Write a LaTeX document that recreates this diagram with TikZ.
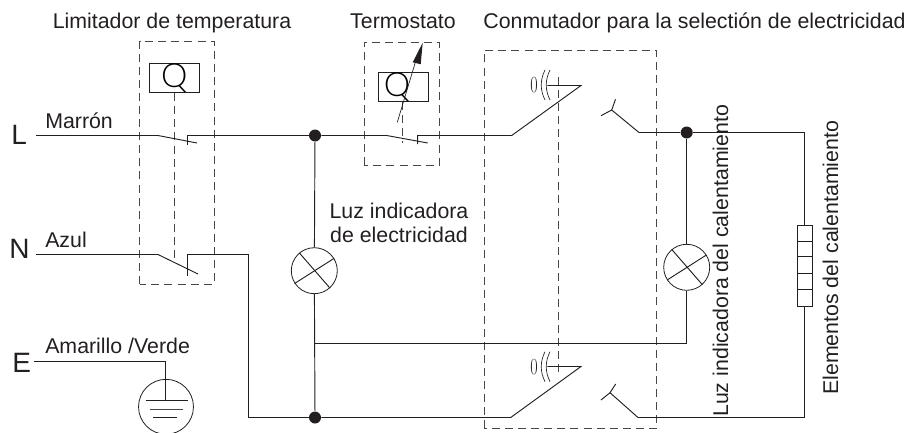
\documentclass[tikz,border=0pt]{standalone}
\usepackage{fontspec}
\setmainfont{Liberation Sans}
\newfontfamily\thinfont{Lato Light}
\definecolor{wireink}{RGB}{35,31,32}
\definecolor{dashink}{RGB}{70,70,70}
\tikzset{
  wire/.style={draw=wireink,line width=0.7pt},
  dashbox/.style={draw=dashink,line width=0.6pt,dash pattern=on 6pt off 3.8pt},
  lamp/.style={circle,draw=wireink,line width=0.6pt,minimum size=34.5pt,inner sep=0pt},
  dotjoin/.style={circle,fill=wireink,minimum size=9pt,inner sep=0pt},
  relaybox/.style={draw=wireink,line width=0.6pt,minimum width=37.8pt,minimum height=22pt,inner sep=0pt,font=\thinfont\fontsize{25}{25}\selectfont},
  caption/.style={inner sep=0pt,text=wireink,font=\fontsize{16}{18.5}\selectfont},
  terminal/.style={inner sep=0pt,text=wireink,font=\fontsize{21}{21}\selectfont},
  heatcell/.style={draw=wireink,line width=0.5pt},
}
\begin{document}
\begin{tikzpicture}[x=0.75pt,y=0.75pt,yscale=-1,xscale=1]
\useasboundingbox (0,0) rectangle (910,432);

% captions
\node[caption,anchor=base] (capLimit) at (172,28) {Limitador de temperatura};
\node[caption,anchor=base] (capTermo) at (403,28) {Termostato};
\node[caption,anchor=base] (capSwitch) at (694.5,28) {Conmutador para la selectión de electricidad};
\node[caption,anchor=base west] (capMarron) at (45,128) {Marrón};
\node[caption,anchor=base west] (capAzul) at (45,247) {Azul};
\node[caption,anchor=base west] (capVerde) at (45,353) {Amarillo /Verde};
\node[caption,align=center] (capLuz) at (399,223) {Luz indicadora\\de electricidad};
\node[caption,rotate=90,anchor=base west] (capLuzCal) at (728,417) {Luz indicadora del calentamiento};
\node[caption,rotate=90,anchor=base west] (capElem) at (838,395) {Elementos del calentamiento};
\node[terminal,anchor=base west] (termL) at (11,144) {L};
\node[terminal,anchor=base west] (termN) at (9,258) {N};
\node[terminal,anchor=base west] (termE) at (12,372) {E};

% dashed boxes
\draw[dashbox] (139.5,284) rectangle (214,41.5);
\draw[dashbox] (364.3,165) rectangle (439.3,42);
\draw[dashbox] (484,428.3) rectangle (656.7,50.7);

% relays
\node[relaybox] (relayLimit) at (174.3,78.2) {Q};
\node[relaybox] (relayTermo) at (403.5,87.2) {Q\kern 9.8pt};
\coordinate (limitEnd) at (174.5,262);
\coordinate (termoEnd) at (402,143);
\coordinate (switchTop) at (558.3,77);
\coordinate (switchEnd) at (558.3,375);
\draw[dashbox] (relayLimit.south -| limitEnd) -- (limitEnd);
\draw[dashbox] (relayTermo.south -| termoEnd) -- (termoEnd);
\draw[dashbox] (switchTop) -- (switchEnd);
\draw[wire,line width=0.5pt] (397.3,122.3) -- (416,60);
\fill[wireink] (422.7,42.7) -- (420.7,64.3) -- (412.7,62.3) -- cycle;

% junctions and lamps
\node[dotjoin] (dotTop) at (315,135.5) {};
\node[dotjoin] (dotBot) at (315,417.5) {};
\node[dotjoin] (dotHeat) at (686.7,132.5) {};
\node[lamp] (lampPower) at (314.3,270.7) {};
\node[lamp] (lampHeat) at (686.7,267.3) {};
\foreach \l in {lampPower,lampHeat}{
  \draw[wire] (\l.130) -- (\l.-48);
  \draw[wire] (\l.-147) -- (\l.32);
}

% line L
\coordinate (Lstart) at (36,135.5);
\coordinate (Lopen) at (158,135.5);
\coordinate (Lfree) at (197,143);
\coordinate (Lfix) at (187.5,135.5);
\coordinate (Lfixb) at (187.5,145);
\draw[wire] (Lstart) -- (Lopen) -- (Lfree);
\draw[wire] (Lfixb) -- (Lfix) -- (dotTop);
\coordinate (Topen) at (386.7,135.5);
\coordinate (Tfree) at (427.7,143);
\coordinate (Tfix) at (417.7,135.5);
\coordinate (Tfixb) at (417.7,144);
\draw[wire] (dotTop) -- (Topen) -- (Tfree);
\draw[wire] (Tfixb) -- (Tfix) -- (511.7,135.5) -- (581,85.5) -- (547.3,85.5);
\draw[wire] (dotTop) -- (lampPower);

% line N
\coordinate (Nstart) at (36,254.5);
\coordinate (Nopen) at (158,254.5);
\coordinate (Nfree) at (198,274);
\coordinate (Nfix) at (187.5,254.5);
\coordinate (Nfixb) at (187.5,276);
\draw[wire] (Nstart) -- (Nopen) -- (Nfree);
\draw[wire] (Nfixb) -- (Nfix) -- (248,254.5) -- (248,417.5) -- (dotBot);
\draw[wire] (dotBot) -- (510.7,417.5) -- (581,366.5) -- (547.3,366.5);
\draw[wire] (lampPower) -- (dotBot);

% change-over contacts
\draw[wire] (dotHeat) -- (639,132.5) -- (611.7,110);
\draw[wire] (601,115.7) -- (611.7,110) -- (615.5,99.3);
\draw[wire] (804.5,417.5) -- (638,417.5) -- (610,392.7);
\draw[wire] (601,400) -- (610,392.7) -- (615.7,384);
\foreach \y/\n in {85/A,366.7/B}{
  \node[inner sep=0pt,text=wireink,font=\fontsize{17}{17}\selectfont] (zero\n) at (534,\y) {\scalebox{0.7}[1]{$0$}};
  \draw[wire,line width=0.5pt] (545,\y-15) .. controls (540,\y-5) and (540,\y+5) .. (545,\y+15);
  \draw[wire,line width=0.5pt] (550,\y-15) .. controls (545,\y-5) and (545,\y+5) .. (550,\y+15);
}

% heater side
\coordinate (heatTop) at (804.5,225.5);
\coordinate (heatBot) at (804.5,306.5);
\draw[heatcell] (797.5,225.5) rectangle (812.5,306.5);
\foreach \y in {241.5,256.5,273.5,289.5}
  \draw[heatcell] (797.5,\y) -- (812.5,\y);
\draw[wire] (dotHeat) -- (dotHeat -| heatTop) -- (heatTop);
\draw[wire] (heatBot) -- (heatBot |- dotBot);
\draw[wire] (dotHeat) -- (lampHeat);
\draw[wire] (lampHeat) -- (686.7,343.5) -- (314.5,343.5);

% earth
\node[circle,draw=wireink,line width=0.6pt,minimum size=41.2pt,inner sep=0pt] (earthRing) at (166,406.8) {};
\coordinate (Estart) at (34,361.5);
\coordinate (Eelbow) at (165.5,361.5);
\coordinate (Ebar) at (165.5,400.5);
\draw[wire] (Estart) -- (Eelbow) -- (Ebar);
\draw[wire] (145.6,400.5) -- (187.6,400.5);
\draw[wire,draw=dashink] (150,409.5) -- (183,409.5);
\draw[wire] (153,417.5) -- (177,417.5);
\end{tikzpicture}
\end{document}
